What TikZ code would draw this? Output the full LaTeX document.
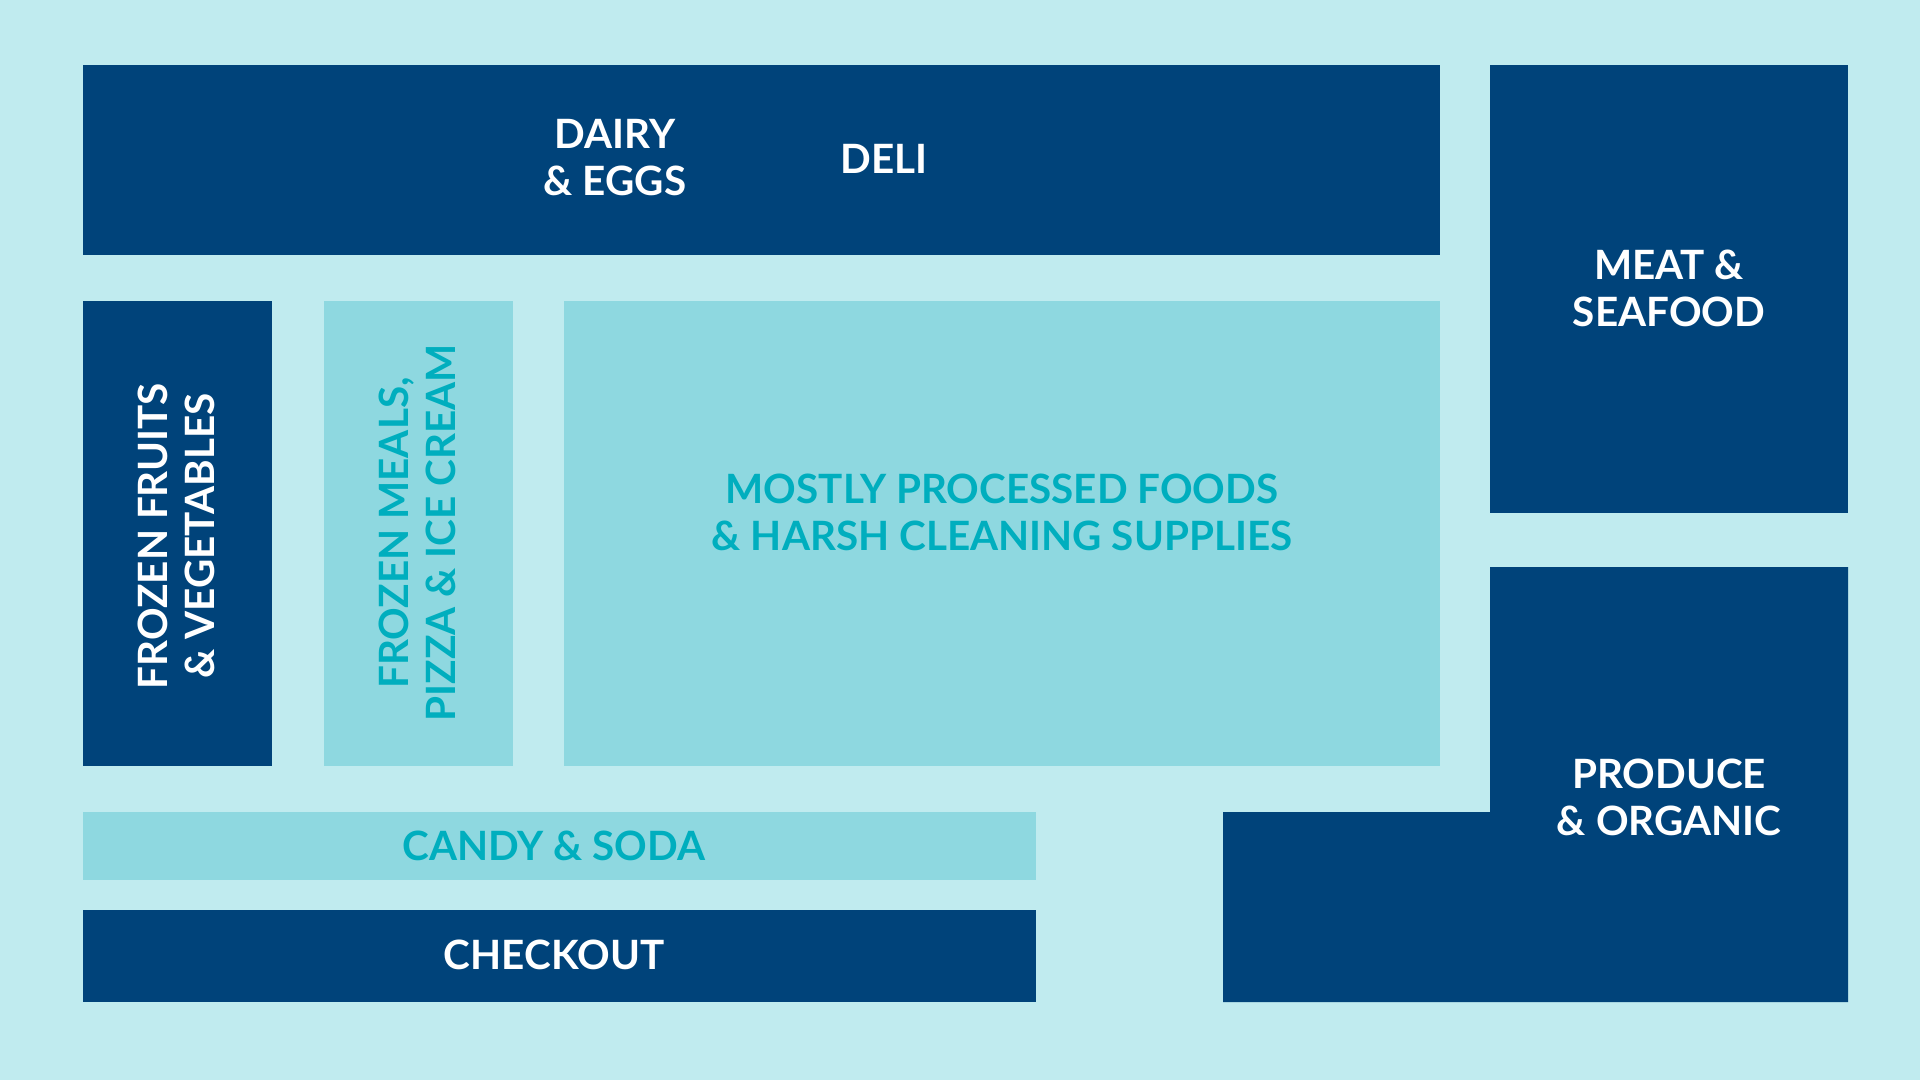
\documentclass[tikz,border=0pt]{standalone}
\usepackage{fontspec}
\setmainfont{Lato}
\definecolor{bgc}{HTML}{C0EBEF}
\definecolor{midc}{HTML}{8ED8E0}
\definecolor{darkc}{HTML}{00437A}
\definecolor{txtc}{HTML}{00AEBE}
\tikzset{
  lbl/.style={align=center, inner sep=0pt, font=\bfseries\fontsize{20.2}{23.5}\selectfont},
  wlbl/.style={lbl, text=white},
  clbl/.style={lbl, text=txtc},
}
\begin{document}
\begin{tikzpicture}[x=0.5pt,y=-0.5pt]
\fill[bgc] (0,0) rectangle (1920,1080);
\useasboundingbox (0,0) rectangle (1920,1080);
% dark blocks
\fill[darkc] (83,65) rectangle (1440,255);
\fill[darkc] (1490,65) rectangle (1848,513);
\fill[darkc] (83,301) rectangle (272,766);
\fill[darkc] (83,910) rectangle (1036,1002);
\fill[darkc] (1490,567) -- (1848,567) -- (1848,1002) -- (1223,1002) -- (1223,812) -- (1490,812) -- cycle;
% medium blocks
\fill[midc] (324,301) rectangle (513,766);
\fill[midc] (564,301) rectangle (1440,766);
\fill[midc] (83,812) rectangle (1036,880);
% labels
\node[wlbl] (dairy) at (615,158) {DAIRY\\\& EGGS};
\node[wlbl] (deli) at (884,159) {DELI};
\node[wlbl] (meat) at (1669,288) {MEAT \&\\SEAFOOD};
\node[wlbl, rotate=90] (ffv) at (176,536) {FROZEN FRUITS\\\& VEGETABLES};
\node[clbl, rotate=90] (fm) at (417,533) {FROZEN MEALS,\\PIZZA \& ICE CREAM};
\node[clbl] (proc) at (1002,512) {MOSTLY PROCESSED FOODS\\\& HARSH CLEANING SUPPLIES};
\node[clbl] (candy) at (554,846) {CANDY \& SODA};
\node[wlbl] (checkout) at (554,955) {CHECKOUT};
\node[wlbl] (produce) at (1669,797) {PRODUCE\\\& ORGANIC};
\end{tikzpicture}
\end{document}
